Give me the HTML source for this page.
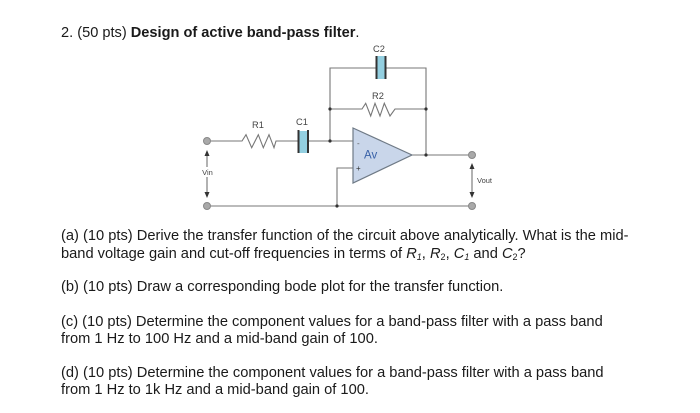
<!DOCTYPE html>
<html><head><meta charset="utf-8">
<style>
html,body{margin:0;padding:0;background:#fff}
#p{position:relative;width:700px;height:413px;overflow:hidden;background:#fff;font-family:"Liberation Sans",sans-serif;color:#1a1a1a;filter:blur(0.35px)}
.t{position:absolute;left:61px;font-size:14.67px;line-height:17px;white-space:nowrap}
.t i{font-style:italic}
.t sub{font-size:9px;line-height:0;vertical-align:-2px}
svg{position:absolute;left:0;top:0}
svg text{font-family:"Liberation Sans",sans-serif;fill:#444}
</style></head><body><div id="p">
<svg width="700" height="413" viewBox="0 0 700 413">
<g fill="none" stroke="#777" stroke-width="1.1">
<path d="M207 141H242L246 134.7 251.7 147.7 258.3 134.7 263.3 147.7 269 134.7 274 147.7 276 141H298M308 141H353"/>
<path d="M330 141V68H376M385 68H426V155"/>
<path d="M330 109H362L365.7 103.3 370.7 116 375 103.3 380 116 384.3 103.3 390 116 395 109H426"/>
<path d="M412 155H472"/>
<path d="M207 206H472"/>
<path d="M353 168H337V206"/>
<path d="M207 152V167M207 177V195M472 166V195" stroke="#555" stroke-width="0.9"/>
</g>
<polygon points="353,128 412,155 353,183" fill="#c9d6ea" stroke="#6f7a86" stroke-width="1.2"/>
<rect x="299" y="131" width="9" height="22" fill="#93cfe0"/>
<rect x="377" y="56" width="8" height="23" fill="#93cfe0"/>
<g fill="#333">
<rect x="297.5" y="130" width="2" height="23"/><rect x="307" y="130" width="2" height="23"/>
<rect x="375.5" y="56" width="2" height="23"/><rect x="384.5" y="56" width="2" height="23"/>
<circle cx="330" cy="109" r="1.6"/><circle cx="330" cy="141" r="1.6"/>
<circle cx="426" cy="109" r="1.6"/><circle cx="426" cy="155" r="1.6"/>
<circle cx="337" cy="206" r="1.6"/>
<path d="M207 150l-2.5 6h5zM207 198l-2.5 -6h5zM472 163l-2.5 6h5zM472 198l-2.5 -6h5z"/>
</g>
<g fill="#a9a9a9" stroke="#888" stroke-width="1">
<circle cx="207" cy="141" r="3.5"/><circle cx="207" cy="206" r="3.5"/>
<circle cx="472" cy="155" r="3.5"/><circle cx="472" cy="206" r="3.5"/>
</g>
<text x="379" y="52" font-size="9.3" text-anchor="middle">C2</text>
<text x="378" y="99" font-size="9.3" text-anchor="middle">R2</text>
<text x="258" y="128" font-size="9.3" text-anchor="middle">R1</text>
<text x="302" y="125" font-size="9.3" text-anchor="middle">C1</text>
<text x="207.5" y="175" font-size="7.5" text-anchor="middle">Vin</text>
<text x="477" y="183" font-size="7.5">Vout</text>
<text x="364" y="158.5" font-size="11.5" style="fill:#3a62a8">Av</text>
<text x="357" y="146" font-size="8" style="fill:#555">-</text>
<text x="356" y="171" font-size="8" style="fill:#333">+</text>
</svg>
<div class="t" style="top:25px;font-size:14.6px">2. (50 pts) <b>Design of active band-pass filter</b>.</div>
<div class="t" style="top:228px">(a) (10 pts) Derive the transfer function of the circuit above analytically. What is the mid-</div>
<div class="t" style="top:246px">band voltage gain and cut-off frequencies in terms of <i>R<sub>1</sub></i>, <i>R</i><sub>2</sub>, <i>C<sub>1</sub></i> and <i>C</i><sub>2</sub>?</div>
<div class="t" style="top:279px">(b) (10 pts) Draw a corresponding bode plot for the transfer function.</div>
<div class="t" style="top:314px">(c) (10 pts) Determine the component values for a band-pass filter with a pass band</div>
<div class="t" style="top:331px">from 1 Hz to 100 Hz and a mid-band gain of 100.</div>
<div class="t" style="top:365px">(d) (10 pts) Determine the component values for a band-pass filter with a pass band</div>
<div class="t" style="top:382px">from 1 Hz to 1k Hz and a mid-band gain of 100.</div>
</div></body></html>
